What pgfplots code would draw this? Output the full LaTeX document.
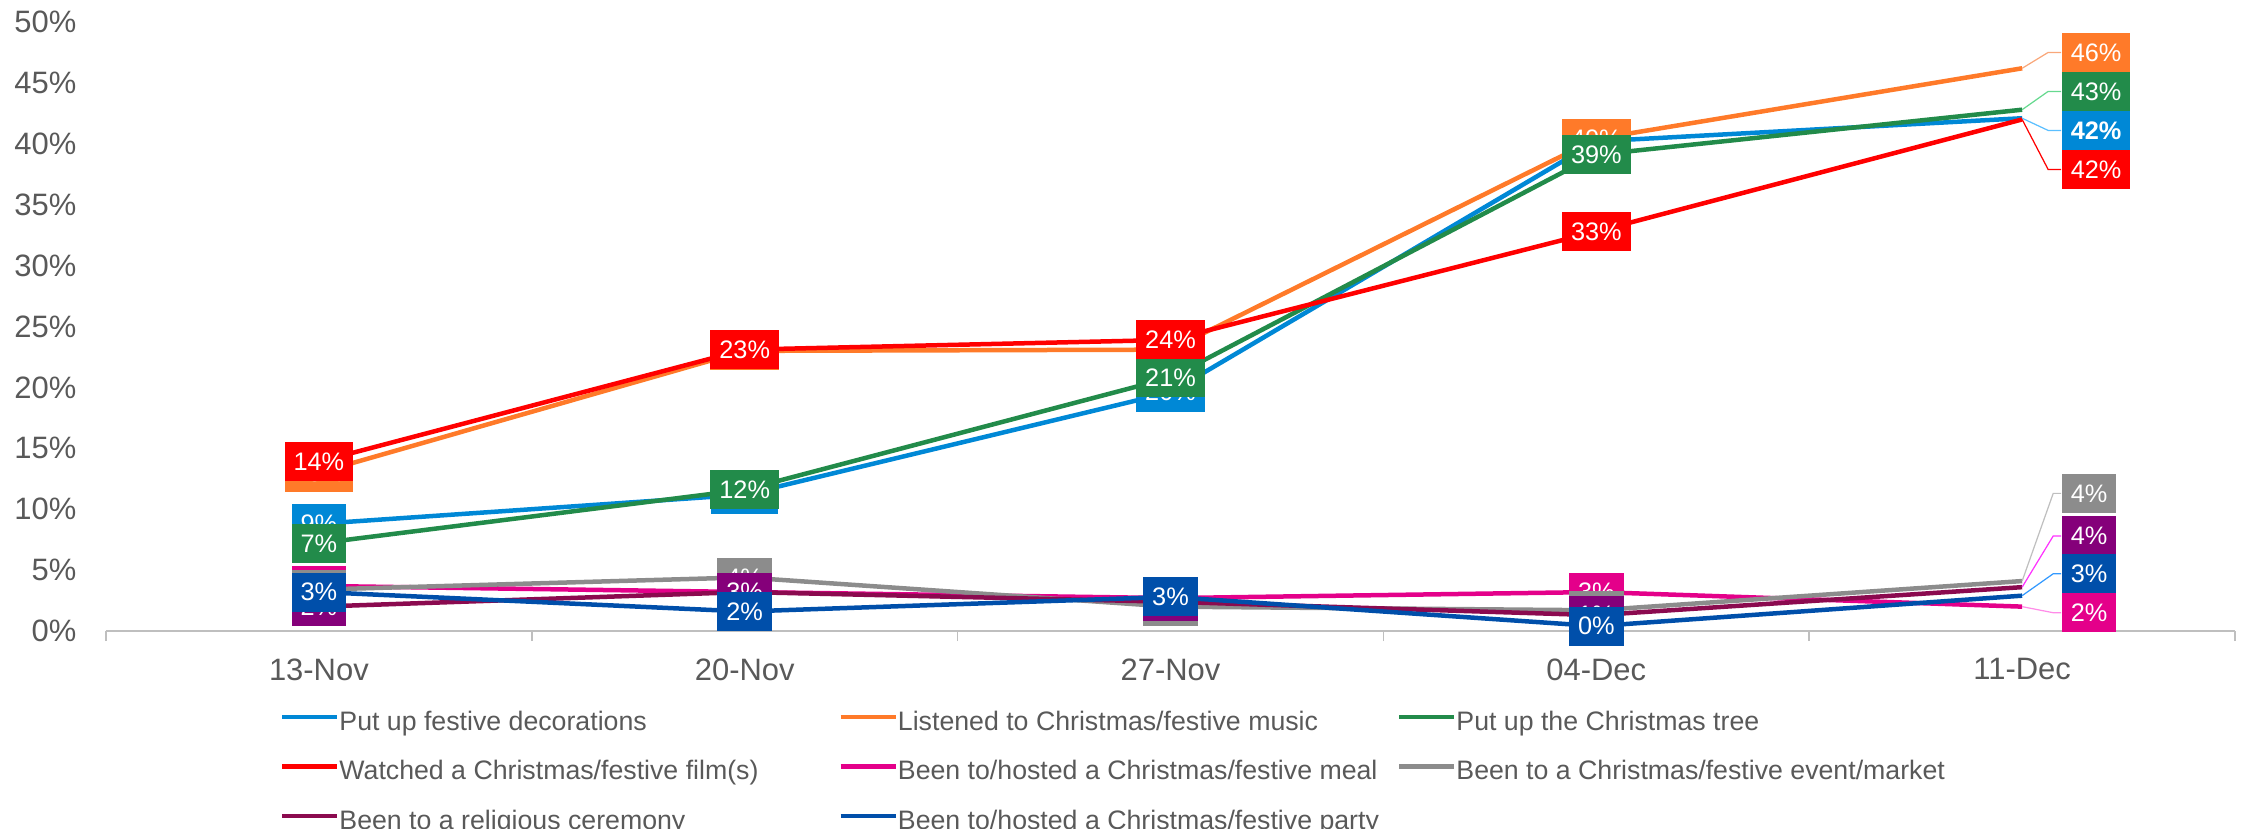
\documentclass[border=0pt]{standalone}
\usepackage{fontspec}
\setmainfont{Liberation Sans}
\usepackage{pgfplots}
\pgfplotsset{compat=1.18}
\definecolor{cDec}{HTML}{0088D6}
\definecolor{cMus}{HTML}{FF7A29}
\definecolor{cTree}{HTML}{228B4A}
\definecolor{cFilm}{HTML}{FF0000}
\definecolor{cMeal}{HTML}{E4008A}
\definecolor{cEvent}{HTML}{8C8C8C}
\definecolor{cRel}{HTML}{8B0A4F}
\definecolor{cRelBox}{HTML}{85007A}
\definecolor{cParty}{HTML}{004FAA}
\definecolor{lDec}{HTML}{5BBFFF}
\definecolor{lMus}{HTML}{F9A77A}
\definecolor{lTree}{HTML}{66D98F}
\definecolor{lEvent}{HTML}{BFBFBF}
\definecolor{lRel}{HTML}{FF33FF}
\definecolor{lParty}{HTML}{3399FF}
\definecolor{lMeal}{HTML}{FF8CE8}
\definecolor{axgray}{HTML}{BFBFBF}
\definecolor{tickgray}{HTML}{595959}
\pgfplotsset{
  ser/.style={line width=0.45mm, line join=round},
  lbl/.style={forget plot, draw=none, mark=none, point meta=y,
    nodes near coords={\pgfmathprintnumber[fixed,precision=0]{\pgfplotspointmeta}\%},
    every node near coord/.append style={fill=#1, text=white, anchor=center,
      inner xsep=0.9mm, inner ysep=0pt, minimum height=3.9mm,
      font=\fontsize{7.2}{8}\selectfont}},
  last/.style={every node near coord/.append style={anchor=west, xshift=3.9mm, yshift=#1}},
}
\newcommand{\leg}[1]{\makebox[49.4mm][l]{\rule[-1.5mm]{0pt}{4.7mm}#1}}
\begin{document}
\begin{tikzpicture}
\begin{axis}[
  at={(0,0)}, anchor=south west,
  scale only axis, width=212.9mm, height=60.9mm,
  xmin=-0.5, xmax=4.5, ymin=0, ymax=50,
  axis x line*=bottom, axis y line*=left,
  y axis line style={draw=none},
  x axis line style={draw=axgray, line width=0.15mm},
  xtick={0,1,2,3,4},
  xticklabels={13-Nov,20-Nov,27-Nov,04-Dec,11-Dec},
  minor xtick={-0.5,0.5,1.5,2.5,3.5,4.5},
  major tick length=0pt,
  minor tick length=1mm,
  tick align=outside,
  major x tick style={draw=none},
  minor x tick style={draw=axgray, line width=0.15mm},
  ytick={0,5,...,50},
  ytick style={draw=none},
  yticklabel={\pgfmathprintnumber{\tick}\%},
  /pgf/number format/assume math mode=true,
  tick label style={font=\fontsize{8.8}{10}\selectfont, text=tickgray},
  yticklabel style={anchor=east, inner sep=0pt, xshift=-2.9mm},
  xticklabel style={anchor=north, inner sep=0pt, yshift=-2.7mm},
  clip=false,
  legend columns=3,
  legend cell align=left,
  legend style={at={(0.0817,-0.111)}, anchor=north west, draw=none, fill=none,
    inner sep=0pt, outer sep=0pt, row sep=1.2mm, column sep=0pt,
    nodes={inner sep=0pt, outer sep=0pt, font=\fontsize{7.6}{9}\selectfont, text=tickgray},
    /tikz/every even column/.append style={column sep=0.5mm}},
  legend image code/.code={\draw[line width=0.45mm] (0mm,0mm) -- (5.5mm,0mm);},
]
% ---- lines ----
\addplot[ser, cDec] coordinates {(0,8.8) (1,11.2) (2,19.6) (3,40.2) (4,42.1)};
\addlegendentry{\leg{Put up festive decorations}}
\addplot[ser, cMus] coordinates {(0,13.0) (1,23.0) (2,23.1) (3,40.4) (4,46.2)};
\addlegendentry{\leg{Listened to Christmas/festive music}}
\addplot[ser, cTree] coordinates {(0,7.2) (1,11.6) (2,20.8) (3,39.1) (4,42.8)};
\addlegendentry{\leg{Put up the Christmas tree}}
\addplot[ser, cFilm] coordinates {(0,13.9) (1,23.1) (2,23.9) (3,32.8) (4,42.0)};
\addlegendentry{\leg{Watched a Christmas/festive film(s)}}
\addplot[ser, cMeal] coordinates {(0,3.7) (1,3.2) (2,2.7) (3,3.2) (4,2.0)};
\addlegendentry{\leg{Been to/hosted a Christmas/festive meal}}
\addplot[ser, cEvent] coordinates {(0,3.4) (1,4.4) (2,2.0) (3,1.7) (4,4.1)};
\addlegendentry{\leg{Been to a Christmas/festive event/market}}
\addplot[ser, cRel] coordinates {(0,2.0) (1,3.2) (2,2.4) (3,1.3) (4,3.6)};
\addlegendentry{\leg{Been to a religious ceremony}}
\addplot[ser, cParty] coordinates {(0,3.2) (1,1.6) (2,2.8) (3,0.4) (4,2.9)};
\addlegendentry{\leg{Been to/hosted a Christmas/festive party}}
% ---- leader lines for the last labels ----
\draw[lMus, line width=0.35pt] (axis cs:4,46.2) -- (axis cs:4.061,47.5) -- (axis cs:4.0915,47.5);
\draw[lTree, line width=0.35pt] (axis cs:4,42.8) -- (axis cs:4.061,44.3) -- (axis cs:4.0915,44.3);
\draw[lDec, line width=0.35pt] (axis cs:4,42.1) -- (axis cs:4.061,41.1) -- (axis cs:4.0915,41.1);
\draw[cFilm, line width=0.35pt] (axis cs:4,42.0) -- (axis cs:4.061,37.9) -- (axis cs:4.0915,37.9);
\draw[lEvent, line width=0.35pt] (axis cs:4,4.1) -- (axis cs:4.073,11.3) -- (axis cs:4.0915,11.3);
\draw[lRel, line width=0.35pt] (axis cs:4,3.6) -- (axis cs:4.073,7.8) -- (axis cs:4.0915,7.8);
\draw[lParty, line width=0.35pt] (axis cs:4,2.9) -- (axis cs:4.073,4.7) -- (axis cs:4.0915,4.7);
\draw[lMeal, line width=0.35pt] (axis cs:4,2.0) -- (axis cs:4.073,1.5) -- (axis cs:4.0915,1.5);
% ---- data labels at the first four dates ----
\addplot[lbl=cDec] coordinates {(0,8.8) (1,11.2) (2,19.6) (3,40.2)};
\addplot[lbl=cMus] coordinates {(0,13.0) (1,23.0) (2,23.1) (3,40.4)};
\addplot[lbl=cTree] coordinates {(0,7.2) (1,11.6) (2,20.8) (3,39.1)};
\addplot[lbl=cFilm] coordinates {(0,13.9) (1,23.1) (2,23.9) (3,32.8)};
\addplot[lbl=cMeal] coordinates {(0,3.7) (1,3.2) (2,2.7) (3,3.2)};
\addplot[lbl=cEvent] coordinates {(0,3.4) (1,4.4) (2,2.0) (3,1.7)};
\addplot[lbl=cRelBox] coordinates {(0,2.0) (1,3.2) (2,2.4) (3,1.3)};
\addplot[lbl=cParty] coordinates {(0,3.2) (1,1.6) (2,2.8) (3,0.4)};
% ---- labels at 11-Dec, moved aside ----
\addplot[lbl=cDec, last=-1.22mm, every node near coord/.append style={font=\fontsize{7.2}{8}\selectfont\bfseries}] coordinates {(4,42.1)};
\addplot[lbl=cMus, last=1.58mm] coordinates {(4,46.2)};
\addplot[lbl=cTree, last=1.83mm] coordinates {(4,42.8)};
\addplot[lbl=cFilm, last=-4.99mm] coordinates {(4,42.0)};
\addplot[lbl=cMeal, last=-0.61mm] coordinates {(4,2.0)};
\addplot[lbl=cEvent, last=8.77mm] coordinates {(4,4.1)};
\addplot[lbl=cRelBox, last=5.12mm] coordinates {(4,3.6)};
\addplot[lbl=cParty, last=2.19mm] coordinates {(4,2.9)};
\end{axis}
\pgfresetboundingbox
\useasboundingbox (-10.6mm,-19.8mm) rectangle (213.8mm,63.1mm);
\end{tikzpicture}
\end{document}
